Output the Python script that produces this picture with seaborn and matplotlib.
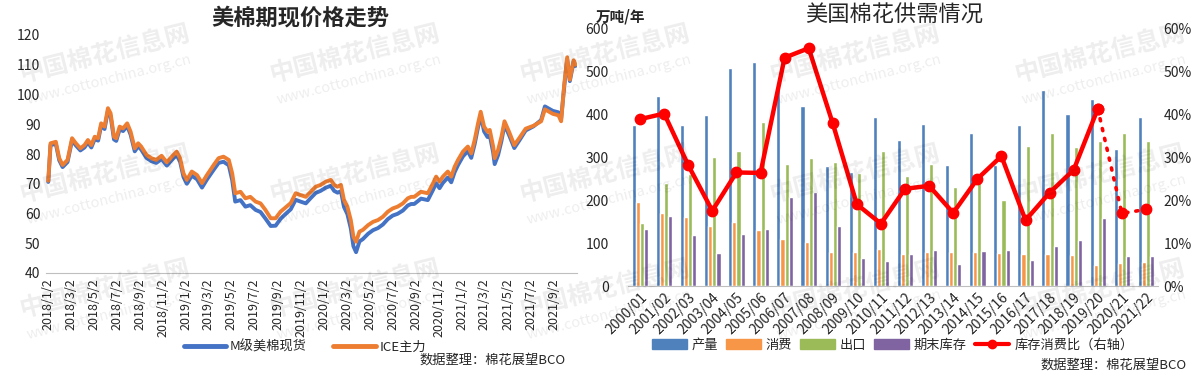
import pandas as pd
import seaborn as sns
import matplotlib.pyplot as plt
from matplotlib.lines import Line2D
from matplotlib.patches import Patch
from matplotlib.ticker import FuncFormatter

# ---- left chart: US cotton futures vs spot (US cents/lb) ----
price_dates = [
    '2018-01-02', '2018-01-08', '2018-01-22', '2018-01-31', '2018-02-09', '2018-02-22',
    '2018-03-06', '2018-03-16', '2018-03-28', '2018-04-08', '2018-04-17', '2018-04-26',
    '2018-05-05', '2018-05-14', '2018-05-22', '2018-05-31', '2018-06-09', '2018-06-16',
    '2018-06-25', '2018-07-01', '2018-07-10', '2018-07-19', '2018-07-30', '2018-08-08',
    '2018-08-19', '2018-08-28', '2018-09-05', '2018-09-19', '2018-10-02', '2018-10-15',
    '2018-10-29', '2018-11-12', '2018-11-25', '2018-12-08', '2018-12-17', '2018-12-26',
    '2019-01-04', '2019-01-17', '2019-01-31', '2019-02-13', '2019-02-26', '2019-03-16',
    '2019-03-29', '2019-04-11', '2019-04-25', '2019-05-04', '2019-05-12', '2019-05-26',
    '2019-06-08', '2019-06-21', '2019-07-05', '2019-07-18', '2019-07-31', '2019-08-14',
    '2019-08-27', '2019-09-09', '2019-09-22', '2019-10-06', '2019-10-19', '2019-11-01',
    '2019-11-15', '2019-11-28', '2019-12-11', '2019-12-24', '2020-01-07', '2020-01-20',
    '2020-01-29', '2020-02-07', '2020-02-16', '2020-02-24', '2020-03-04', '2020-03-13',
    '2020-03-20', '2020-03-27', '2020-04-05', '2020-04-14', '2020-04-28', '2020-05-11',
    '2020-05-24', '2020-06-06', '2020-06-19', '2020-07-02', '2020-07-15', '2020-07-29',
    '2020-08-11', '2020-08-20', '2020-08-28', '2020-09-15', '2020-10-03', '2020-10-17',
    '2020-10-25', '2020-11-03', '2020-11-12', '2020-11-25', '2020-12-04', '2020-12-13',
    '2020-12-22', '2021-01-04', '2021-01-17', '2021-01-26', '2021-02-04', '2021-02-13',
    '2021-02-20', '2021-03-01', '2021-03-10', '2021-03-16', '2021-03-25', '2021-03-29',
    '2021-04-07', '2021-04-16', '2021-04-24', '2021-05-06', '2021-05-20', '2021-06-03',
    '2021-06-19', '2021-07-10', '2021-07-30', '2021-08-09', '2021-08-30', '2021-09-14',
    '2021-09-21', '2021-09-29', '2021-10-07', '2021-10-14', '2021-10-24', '2021-10-29',
]
ice_price = [
    71.0, 83.6, 84.1, 78.6, 76.3, 78.0, 85.3, 83.6, 81.9, 83.0, 84.7, 83.0,
    85.8, 85.3, 90.3, 89.2, 95.4, 93.7, 85.8, 85.3, 89.2, 88.6, 90.3, 87.5,
    81.9, 83.6, 82.5, 79.7, 78.6, 78.0, 79.4, 77.2, 79.1, 80.8, 78.6, 73.5,
    71.3, 74.1, 72.9, 70.2, 72.9, 76.3, 78.6, 79.1, 78.0, 73.5, 66.8, 67.3,
    65.1, 65.6, 64.0, 63.4, 61.2, 58.4, 58.4, 60.6, 62.0, 63.5, 66.8, 66.2,
    65.6, 67.3, 69.0, 69.6, 70.7, 71.3, 69.6, 69.0, 69.6, 64.5, 62.3, 57.8,
    52.2, 50.5, 53.9, 54.5, 56.1, 57.2, 57.8, 58.9, 60.6, 61.7, 62.3, 63.4,
    65.1, 65.6, 65.6, 67.3, 66.8, 70.2, 72.4, 70.7, 72.4, 74.1, 72.4, 75.7,
    78.0, 80.8, 82.5, 80.2, 84.7, 90.3, 94.2, 89.2, 87.5, 88.1, 82.5, 78.6,
    81.3, 85.8, 91.0, 87.5, 83.0, 85.5, 88.5, 89.5, 91.0, 95.0, 93.5, 93.0,
    91.0, 103.0, 112.5, 105.0, 111.5, 110.0,
]
spot_price = [
    70.6, 83.0, 83.4, 77.9, 75.6, 77.3, 84.6, 82.9, 81.2, 82.2, 83.9, 82.2,
    85.0, 84.5, 89.5, 88.4, 94.5, 92.8, 84.9, 84.4, 88.3, 87.7, 89.4, 86.5,
    80.9, 82.6, 81.5, 78.7, 77.6, 77.0, 78.3, 76.1, 78.0, 79.7, 77.4, 72.3,
    70.0, 72.7, 71.5, 68.7, 71.4, 74.7, 77.0, 77.4, 76.2, 71.2, 64.0, 64.5,
    62.3, 62.8, 61.2, 60.5, 58.3, 55.8, 55.9, 58.2, 59.8, 61.4, 64.6, 64.0,
    63.4, 65.2, 66.9, 67.6, 68.7, 69.3, 67.6, 67.0, 67.5, 62.2, 59.8, 55.0,
    49.0, 47.0, 50.6, 51.4, 53.2, 54.4, 55.1, 56.3, 58.1, 59.3, 59.9, 61.0,
    62.7, 63.2, 63.2, 65.0, 64.5, 68.0, 70.2, 68.5, 70.3, 72.1, 70.5, 73.9,
    76.3, 79.2, 81.0, 78.7, 83.3, 89.0, 93.0, 87.6, 85.7, 86.3, 80.5, 76.6,
    79.6, 84.4, 89.8, 86.4, 82.0, 84.7, 87.9, 89.3, 91.4, 96.0, 94.5, 94.0,
    91.8, 102.5, 111.8, 104.5, 111.0, 109.6,
]

# ---- right chart: US cotton supply & demand (10k tonnes / year) ----
seasons = ['2000/01', '2001/02', '2002/03', '2003/04', '2004/05', '2005/06', '2006/07',
           '2007/08', '2008/09', '2009/10', '2010/11', '2011/12', '2012/13', '2013/14',
           '2014/15', '2015/16', '2016/17', '2017/18', '2018/19', '2019/20', '2020/21',
           '2021/22']
production = [374, 442, 374, 398, 507, 521, 470, 418, 280, 266, 394, 340, 376, 281,
              356, 281, 374, 456, 400, 435, 319, 393]
consumption = [195, 170, 160, 140, 149, 130, 109, 102, 79, 79, 86, 74, 80, 80,
               80, 77, 74, 74, 72, 49, 53, 56]
exports = [147, 240, 261, 301, 315, 381, 284, 298, 289, 263, 313, 256, 284, 231,
           256, 200, 326, 356, 323, 337, 356, 337]
ending_stocks = [133, 163, 119, 77, 121, 133, 207, 219, 140, 66, 59, 74, 84, 52,
                 82, 84, 60, 93, 107, 158, 70, 70]
stock_use_ratio = [38.8, 40.1, 28.1, 17.5, 26.4, 26.3, 53.1, 55.3, 37.8, 19.0, 14.5,
                   22.6, 23.3, 17.0, 24.9, 30.2, 15.3, 21.7, 27.0, 41.2, 16.9, 17.8]
bar_names = ['产量', '消费', '出口', '期末库存']

sns.set_style('white')
plt.rcParams['font.family'] = ['Noto Sans CJK SC', 'DejaVu Sans']

W, H = 1202, 375
fig = plt.figure(figsize=(W / 100, H / 100), dpi=100)


def box(x0, y0, x1, y1):
    # pixel box (top-left origin) -> figure fraction rect
    return [x0 / W, 1 - y1 / H, (x1 - x0) / W, (y1 - y0) / H]


# faint watermarks in the background (kept inside the canvas)
for wy in [55, 175, 290]:
    for wx in [105, 355, 605, 855, 1100]:
        fig.text(wx / W, 1 - wy / H, '中国棉花信息网', fontsize=18, weight='bold',
                 color='#000000', alpha=0.07, rotation=14, ha='center', va='center')
        fig.text((wx + 4) / W, 1 - (wy + 25) / H, 'www.cottonchina.org.cn', fontsize=10.5,
                 color='#000000', alpha=0.07, rotation=14, ha='center', va='center')

grey = '#BFBFBF'

# ---------------- left chart ----------------
ax1 = fig.add_axes(box(46, 35, 577, 273))
ax1.patch.set_alpha(0)
dates = pd.to_datetime(price_dates)
blue_l, orange_l = '#4472C4', '#ED7D31'
sns.lineplot(x=dates, y=spot_price, ax=ax1, color=blue_l, lw=2.8)
sns.lineplot(x=dates, y=ice_price, ax=ax1, color=orange_l, lw=2.8)
ax1.set_ylim(40, 120)
ax1.set_yticks(range(40, 121, 10))
ax1.set_xlim(pd.Timestamp('2017-12-27'), pd.Timestamp('2021-11-02'))
ticks = pd.date_range('2018-01-02', periods=23, freq=pd.DateOffset(months=2))
ax1.set_xticks(ticks)
ax1.set_xticklabels([f'{d.year}/{d.month}/{d.day}' for d in ticks], rotation=90,
                    fontsize=9)
ax1.tick_params(axis='y', length=0, labelsize=10, pad=4)
ax1.tick_params(axis='x', length=0, pad=4)
for s in ['left', 'right', 'top']:
    ax1.spines[s].set_visible(False)
ax1.spines['bottom'].set_color(grey)
ax1.set_xlabel('')
ax1.set_ylabel('')

fig.text(300 / W, 1 - 18 / H, '美棉期现价格走势', fontsize=16, weight='bold',
         ha='center', va='center')
left_handles = [Line2D([], [], color=blue_l, lw=3.5), Line2D([], [], color=orange_l, lw=3.5)]
fig.legend(left_handles, ['M级美棉现货', 'ICE主力'], loc='center',
           bbox_to_anchor=(305 / W, 1 - 347 / H), ncol=2, frameon=False, fontsize=9.5,
           handlelength=3.2, columnspacing=2.0, handletextpad=0.3)
fig.text(566 / W, 1 - 360 / H, '数据整理：棉花展望BCO', fontsize=9.5, ha='right', va='center')

# ---------------- right chart ----------------
ax2 = fig.add_axes(box(628, 28, 1158, 286))
ax2.patch.set_alpha(0)
bar_colors = ['#4F81BD', '#F79646', '#9BBB59', '#8064A2']
long_df = pd.DataFrame({
    'season': seasons * 4,
    'item': [n for n in bar_names for _ in seasons],
    'value': production + consumption + exports + ending_stocks,
})
sns.barplot(data=long_df, x='season', y='value', hue='item', hue_order=bar_names,
            palette=bar_colors, saturation=1, width=0.68, errorbar=None, legend=False,
            ax=ax2)
ax2.set_ylim(0, 600)
ax2.set_yticks(range(0, 601, 100))
ax2.set_xlim(-0.5, len(seasons) - 0.5)
ax2.set_xticks(range(len(seasons)))
ax2.set_xticklabels(seasons, rotation=45, ha='right', rotation_mode='anchor', fontsize=10)
ax2.tick_params(axis='y', length=0, labelsize=10, pad=14)
ax2.tick_params(axis='x', length=0, pad=3)
for s in ['left', 'right', 'top']:
    ax2.spines[s].set_visible(False)
ax2.spines['bottom'].set_color(grey)
ax2.set_xlabel('')
ax2.set_ylabel('')

ax3 = ax2.twinx()
red = '#FF0000'
xs = list(range(len(seasons)))
ax3.plot(xs[:20], stock_use_ratio[:20], color=red, lw=3.2, marker='o', ms=7.5)
ax3.plot(xs[19:], stock_use_ratio[19:], color=red, lw=2.6, ls=(0, (0.6, 2.2)),
         dash_capstyle='round', marker='o', ms=7.5)
ax3.set_ylim(0, 60)
ax3.set_yticks(range(0, 61, 10))
ax3.yaxis.set_major_formatter(FuncFormatter(lambda v, p: f'{v:.0f}%'))
ax3.tick_params(axis='y', length=0, labelsize=10, pad=4)
for s in ax3.spines.values():
    s.set_visible(False)

fig.text(894 / W, 1 - 15 / H, '美国棉花供需情况', fontsize=16, ha='center', va='center')
fig.text(596 / W, 1 - 17 / H, '万吨/年', fontsize=10.5, weight='bold', ha='left', va='center')

right_handles = [Patch(color=c) for c in bar_colors]
right_handles.append(Line2D([], [], color=red, lw=3, marker='o', ms=6))
fig.legend(right_handles, bar_names + ['库存消费比（右轴）'], loc='center',
           bbox_to_anchor=(893 / W, 1 - 345 / H), ncol=5, frameon=False, fontsize=9.5,
           handlelength=2.6, handleheight=0.8, columnspacing=0.6, handletextpad=0.4)
fig.text(1187 / W, 1 - 365 / H, '数据整理：棉花展望BCO', fontsize=9.5, ha='right', va='center')

fig.savefig('out.png', dpi=100)
